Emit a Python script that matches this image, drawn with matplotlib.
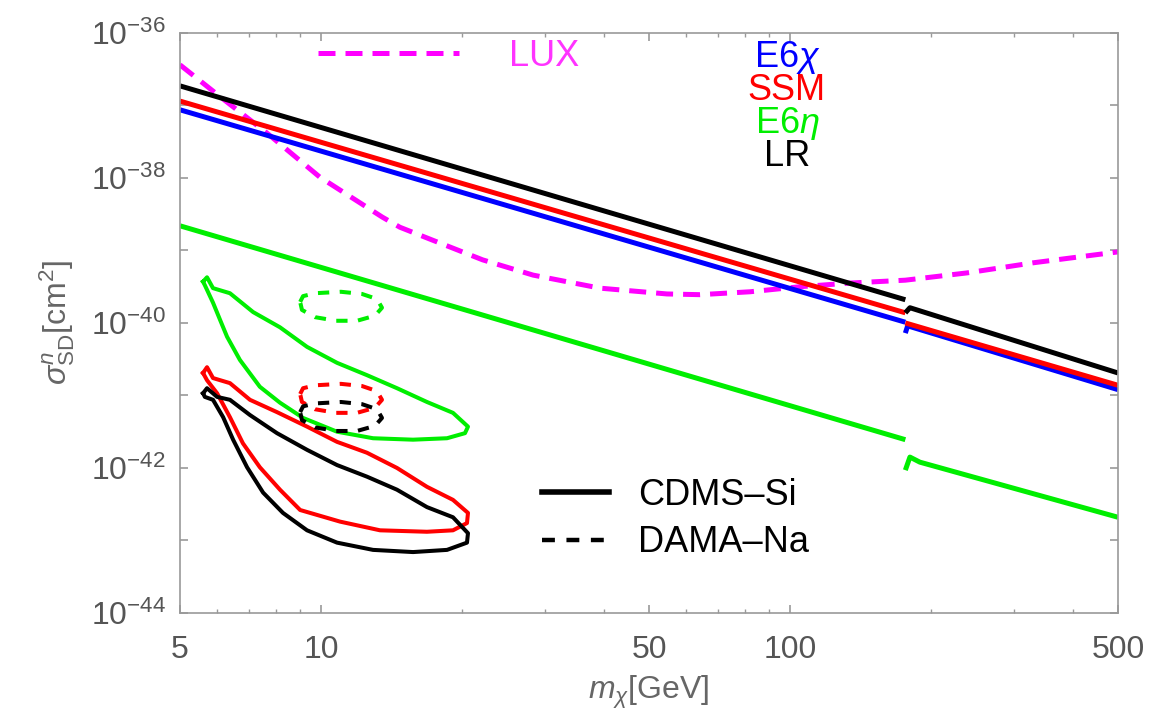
import numpy as np
import matplotlib
matplotlib.use('Agg')
import matplotlib.pyplot as plt
from matplotlib.lines import Line2D
from matplotlib.ticker import FixedLocator, FixedFormatter, NullFormatter, LogFormatterMathtext

plt.rcParams['font.family'] = ['Liberation Sans', 'DejaVu Sans']
plt.rcParams['mathtext.fontset'] = 'custom'
plt.rcParams['mathtext.rm'] = 'Liberation Sans'
plt.rcParams['mathtext.it'] = 'Liberation Sans:italic'
plt.rcParams['mathtext.bf'] = 'Liberation Sans:bold'

# ---- data (mass in GeV, cross section as log10 of cm^2) ----
# Z' model predictions, split at the top threshold (~176 GeV)
m_lo = [5, 176]
lr_lo = [-36.73, -39.68]
ssm_lo = [-36.94, -39.86]
e6chi_lo = [-37.06, -39.99]
e6eta_lo = [-38.66, -41.61]

m_lr_hi = [176, 180, 500]
lr_hi = [-39.86, -39.79, -40.69]
m_ssm_hi = [176, 500]
ssm_hi = [-40.00, -40.86]
m_chi_hi = [176, 178, 500]
e6chi_hi = [-40.14, -40.04, -40.92]
m_eta_hi = [176, 180, 189, 500]
e6eta_hi = [-42.03, -41.85, -41.92, -42.68]

# LUX limit
m_lux = [5, 6.09, 7.66, 9.94, 13.5, 14.72, 17.31, 22.1, 28.3, 39.3, 54.6, 64.2,
         82.1, 105, 134, 176, 238, 330, 500]
lux = [-36.44, -36.88, -37.38, -37.99, -38.54, -38.68, -38.86, -39.13, -39.34,
       -39.52, -39.60, -39.61, -39.57, -39.50, -39.45, -39.41, -39.31, -39.17, -39.02]

# CDMS-Si contours
m_cdms_eta = [5.6, 5.71, 5.88, 6.39, 7.16, 8.17, 9.33, 10.81, 12.52, 14.51, 16.81,
              19.10, 20.56, 20.26, 18.55, 15.70, 12.90, 10.81, 9.15, 8.17, 7.40,
              6.71, 6.30, 6.09, 5.88, 5.65, 5.6]
cdms_eta = [-39.43, -39.37, -39.52, -39.59, -39.85, -40.06, -40.33, -40.55, -40.72,
            -40.90, -41.09, -41.24, -41.43, -41.52, -41.59, -41.61, -41.59, -41.50,
            -41.31, -41.10, -40.88, -40.51, -40.19, -39.96, -39.72, -39.48, -39.43]

m_cdms_ssm = [5.6, 5.71, 5.88, 6.39, 7.05, 8.05, 9.33, 10.81, 12.52, 14.51, 16.81,
              19.10, 20.56, 20.46, 19.10, 16.81, 13.35, 10.97, 9.02, 8.17, 7.40,
              6.81, 6.39, 6.0, 5.71, 5.6]
cdms_ssm = [-40.69, -40.61, -40.76, -40.83, -41.06, -41.23, -41.43, -41.64, -41.79,
            -42.00, -42.26, -42.44, -42.62, -42.76, -42.86, -42.88, -42.86, -42.74,
            -42.58, -42.30, -41.99, -41.66, -41.30, -40.97, -40.79, -40.69]

m_cdms_lr = [5.6, 5.71, 6.0, 6.39, 7.05, 8.05, 9.33, 10.81, 12.52, 14.51, 16.81,
             19.10, 20.56, 20.46, 18.55, 15.70, 12.90, 10.81, 9.33, 8.29, 7.52,
             6.95, 6.49, 6.18, 5.88, 5.65, 5.6]
cdms_lr = [-40.97, -40.90, -41.02, -41.06, -41.27, -41.52, -41.75, -41.96, -42.12,
           -42.30, -42.54, -42.68, -42.90, -43.03, -43.13, -43.16, -43.13, -43.03,
           -42.86, -42.62, -42.34, -41.99, -41.61, -41.30, -41.06, -41.02, -40.97]

# DAMA-Na contours
m_dama = [9.02, 9.15, 9.70, 11.02, 12.22, 13.15, 13.48, 13.02, 11.92, 10.76, 9.70, 9.10, 9.02]
dama_eta = [-39.71, -39.63, -39.59, -39.57, -39.60, -39.67, -39.79, -39.90, -39.97,
            -39.97, -39.92, -39.82, -39.71]
dama_ssm = [-40.98, -40.90, -40.86, -40.84, -40.87, -40.94, -41.06, -41.17, -41.24,
            -41.24, -41.19, -41.09, -40.98]
dama_lr = [-41.23, -41.15, -41.11, -41.09, -41.12, -41.19, -41.31, -41.42, -41.49,
           -41.49, -41.44, -41.34, -41.23]

model_names = ['E6$\\chi$', 'SSM', 'E6$\\eta$', 'LR']
model_colors = ['#0000ff', '#ff0000', '#00ee00', '#000000']

x_ticks = [5, 10, 50, 100, 500]
x_minor = [6, 7, 8, 9, 20, 30, 40, 60, 70, 80, 90, 200, 300, 400]
y_major_exp = [-44, -42, -40, -38, -36]
y_minor_exp = [-43, -41, -39, -37]


def p(v):
    return 10.0 ** np.array(v)


fig = plt.figure(figsize=(11.5, 7.16), dpi=100)
ax = fig.add_axes([0.1565, 0.1439, 0.8157, 0.8101])

lw_main = 3.6
lw_cont = 2.9
lux_dash = (3.4, 2.0)
dama_dash = (2.8, 2.6)

ax.plot(m_lux, p(lux), color='#ff00ff', lw=lw_main, dashes=lux_dash)

for lo, mh, hi, c in [(e6chi_lo, m_chi_hi, e6chi_hi, model_colors[0]),
                      (ssm_lo, m_ssm_hi, ssm_hi, model_colors[1]),
                      (lr_lo, m_lr_hi, lr_hi, model_colors[3]),
                      (e6eta_lo, m_eta_hi, e6eta_hi, model_colors[2])]:
    ax.plot(m_lo, p(lo), color=c, lw=lw_main, solid_capstyle='butt')
    ax.plot(mh, p(hi), color=c, lw=lw_main, solid_capstyle='butt')

ax.plot(m_cdms_eta, p(cdms_eta), color=model_colors[2], lw=lw_cont)
ax.plot(m_cdms_ssm, p(cdms_ssm), color=model_colors[1], lw=lw_cont)
ax.plot(m_cdms_lr, p(cdms_lr), color=model_colors[3], lw=lw_cont)

ax.plot(m_dama, p(dama_eta), color=model_colors[2], lw=lw_cont, dashes=dama_dash)
ax.plot(m_dama, p(dama_ssm), color=model_colors[1], lw=lw_cont, dashes=dama_dash)
ax.plot(m_dama, p(dama_lr), color=model_colors[3], lw=lw_cont, dashes=dama_dash)

ax.set_xscale('log')
ax.set_yscale('log')
ax.set_xlim(5, 500)
ax.set_ylim(1e-44, 1e-36)

gray = '#999999'
for s in ax.spines.values():
    s.set_color(gray)
    s.set_linewidth(1.2)

ax.xaxis.set_major_locator(FixedLocator(x_ticks))
ax.xaxis.set_major_formatter(FixedFormatter([str(v) for v in x_ticks]))
ax.xaxis.set_minor_locator(FixedLocator(x_minor))
ax.xaxis.set_minor_formatter(NullFormatter())
ax.yaxis.set_major_locator(FixedLocator(p(y_major_exp)))
ax.yaxis.set_major_formatter(LogFormatterMathtext())
ax.yaxis.set_minor_locator(FixedLocator(p(y_minor_exp)))
ax.yaxis.set_minor_formatter(NullFormatter())

ax.tick_params(which='both', direction='in', top=True, right=True, color=gray,
               labelcolor='#555555', labelsize=23)
ax.tick_params(axis='x', which='major', length=6, width=1.2, pad=16)
ax.tick_params(axis='x', which='minor', length=3, width=1.0)
ax.tick_params(axis='y', which='major', length=6, width=1.2, pad=10)
ax.tick_params(axis='y', which='minor', length=6, width=1.2)

ax.set_xlabel('$m_\\chi$[GeV]', fontsize=23, color='#666666', labelpad=6)
ax.set_ylabel('$\\sigma^{n}_{\\rm SD}$[cm$^2$]', fontsize=23, color='#666666', labelpad=10)

# model labels, top right
for i, (name, c) in enumerate(zip(model_names, model_colors)):
    ax.text(0.647, 0.958 - i * 0.057, name, transform=ax.transAxes, color=c,
            fontsize=26, ha='center', va='center')

# LUX key
lux_leg = ax.legend([Line2D([], [], color='#ff00ff', lw=lw_main, dashes=lux_dash)], ['LUX'],
                    loc='center left', bbox_to_anchor=(0.147, 0.960), frameon=False,
                    fontsize=26, handlelength=3.9, handletextpad=1.4, borderpad=0,
                    borderaxespad=0, labelcolor='#ff33ff')
ax.add_artist(lux_leg)

# experiment key
ax.legend([Line2D([], [], color='k', lw=4),
           Line2D([], [], color='k', lw=3.2, dashes=(2.9, 2.6))],
          ['CDMS\u2013Si', 'DAMA\u2013Na'],
          loc='center left', bbox_to_anchor=(0.386, 0.162), frameon=False,
          fontsize=26, handlelength=1.85, handletextpad=0.8, labelspacing=0.35,
          borderpad=0, borderaxespad=0)

fig.savefig('out.png', dpi=100)
